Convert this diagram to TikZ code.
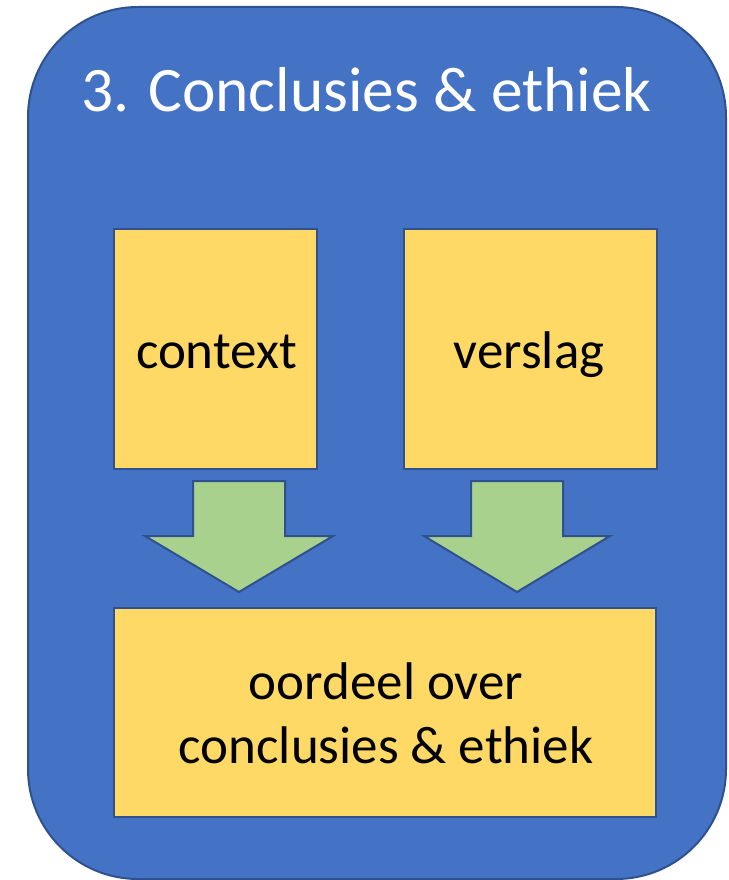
\documentclass[tikz,border=0pt]{standalone}
\usepackage{fontspec}
\setmainfont{Carlito}
\definecolor{outerblue}{HTML}{4472C4}
\definecolor{edgeblue}{HTML}{2F528F}
\definecolor{boxyellow}{HTML}{FFD966}
\definecolor{arrowgreen}{HTML}{A9D18E}
\tikzset{
  outerbox/.style={draw=edgeblue, line width=2pt, fill=outerblue, rounded corners=110pt},
  yellowbox/.style={draw=edgeblue, line width=2pt, fill=boxyellow, inner sep=0pt},
  blockarrow/.style={draw=edgeblue, line width=2pt, fill=arrowgreen, line join=miter},
  boxtext/.style={anchor=base, inner sep=0pt, font=\fontsize{53pt}{64pt}\selectfont, text=black},
  titletext/.style={anchor=base, inner sep=0pt, font=\fontsize{63.4pt}{76pt}\selectfont, text=white}
}
\begin{document}
\begin{tikzpicture}[x=1pt,y=-1pt]
\useasboundingbox (0,0) rectangle (728,880);
% outer panel
\draw[outerbox] (28,7) rectangle (726,879);
\node[titletext] (title) at (366.5,112) {3. Conclusies \& ethiek};
% boxes
\node[yellowbox, minimum width=203pt, minimum height=240pt] (context) at (215.5,349) {};
\node[yellowbox, minimum width=253pt, minimum height=240pt] (verslag) at (530.5,349) {};
\node[yellowbox, minimum width=542pt, minimum height=209pt] (oordeel) at (385,712.5) {};
\node[boxtext] (contextlbl) at (216.5,368) {context};
\node[boxtext] (verslaglbl) at (529,368) {verslag};
\node[boxtext] (oordeellbl1) at (386,699) {oordeel over};
\node[boxtext] (oordeellbl2) at (386,763) {conclusies \& ethiek};
% block arrows
\draw[blockarrow] (193,481) -- (285,481) -- (285,536) -- (333,536) -- (239,592)
  -- (145,536) -- (193,536) -- cycle;
\draw[blockarrow] (471,481) -- (563,481) -- (563,536) -- (610,536) -- (517,592)
  -- (424,536) -- (471,536) -- cycle;
\end{tikzpicture}
\end{document}
